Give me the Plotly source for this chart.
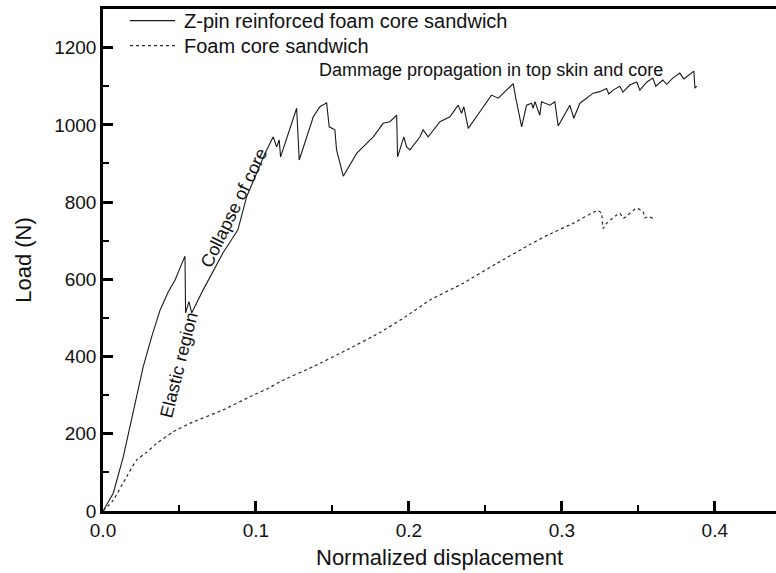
import plotly.graph_objects as go

# Load–displacement response of the two sandwich configurations
disp_zpin = [0.0, 0.0067, 0.0133, 0.0198, 0.0263, 0.0318, 0.0373, 0.0427, 0.0471, 0.0536,
             0.0540, 0.0562, 0.0580, 0.0654, 0.0784, 0.0882, 0.0939, 0.1059, 0.1113, 0.1135,
             0.1152, 0.1161, 0.1190, 0.1266, 0.1283, 0.1331, 0.1375, 0.1418, 0.1462, 0.1479,
             0.1516, 0.1527, 0.1571, 0.1658, 0.1767, 0.1832, 0.1876, 0.1920, 0.1926, 0.1967,
             0.1985, 0.2007, 0.2072, 0.2093, 0.2126, 0.2203, 0.2268, 0.2322, 0.2344, 0.2359,
             0.2388, 0.2464, 0.2540, 0.2584, 0.2682, 0.2699, 0.2737, 0.2769, 0.2802, 0.2812,
             0.2824, 0.2856, 0.2867, 0.2922, 0.2954, 0.2976, 0.3052, 0.3078, 0.3118, 0.3205,
             0.3248, 0.3292, 0.3307, 0.3335, 0.3379, 0.3399, 0.3444, 0.3490, 0.3510, 0.3556,
             0.3595, 0.3614, 0.3660, 0.3686, 0.3725, 0.3771, 0.3797, 0.3837, 0.3863, 0.3870,
             0.3882]
load_zpin = [0, 46, 141, 262, 374, 451, 520, 568, 598, 660,
             513, 542, 513, 572, 668, 728, 814, 926, 969, 943,
             961, 917, 952, 1043, 909, 969, 1021, 1047, 1057, 995,
             987, 935, 867, 926, 969, 1004, 1008, 1025, 917, 969,
             943, 935, 969, 987, 969, 1008, 1021, 1051, 1030, 1047,
             991, 1034, 1077, 1069, 1107, 1069, 995, 1051, 1056, 1043,
             1060, 1025, 1060, 1051, 1060, 997, 1051, 1017, 1056, 1082,
             1086, 1094, 1080, 1090, 1100, 1085, 1103, 1111, 1090, 1111,
             1121, 1100, 1116, 1105, 1121, 1134, 1119, 1131, 1139, 1095,
             1100]

disp_foam = [0.0, 0.0067, 0.0155, 0.0220, 0.0286, 0.0351, 0.0459, 0.0569, 0.0786, 0.0961,
             0.1092, 0.1157, 0.1375, 0.1593, 0.1810, 0.1985, 0.2137, 0.2355, 0.2573, 0.2791,
             0.2910, 0.3074, 0.3237, 0.3259, 0.3270, 0.3292, 0.3379, 0.3401, 0.3488, 0.3531,
             0.3542, 0.3564, 0.3597]
load_foam = [0, 28, 89, 132, 152, 175, 205, 227, 262, 296,
             320, 335, 374, 417, 462, 505, 546, 590, 641, 690,
             715, 745, 778, 771, 732, 745, 771, 758, 784, 775,
             759, 762, 758]

series_names = ["Z-pin reinforced foam core sandwich", "Foam core sandwich"]
series_dash = ["solid", "3px,3px"]
series_color = ["#1a1a1a", "#2a2a2a"]

FONT = "Liberation Sans, Arial, sans-serif"

fig = go.Figure()
fig.add_trace(go.Scatter(
    x=disp_zpin, y=load_zpin, mode="lines", name=series_names[0],
    line=dict(color=series_color[0], width=1.1, dash=series_dash[0]),
))
fig.add_trace(go.Scatter(
    x=disp_foam, y=load_foam, mode="lines", name=series_names[1],
    line=dict(color=series_color[1], width=1.2, dash=series_dash[1],
              shape="spline", smoothing=0.5),
))

axis_common = dict(
    showgrid=False, zeroline=False, showline=True, linecolor="black", linewidth=2.5,
    ticks="inside", ticklen=10, tickwidth=2.5, tickcolor="black",
    tickfont=dict(family=FONT, size=19, color="#111"),
)

fig.update_xaxes(
    **axis_common, range=[0, 0.44], dtick=0.1, tick0=0, tickformat=".1f",
    mirror=True,
    minor=dict(ticks="inside", ticklen=6, tickwidth=2, tickcolor="black", dtick=0.05, showgrid=False),
    title=dict(text="Normalized displacement", font=dict(family=FONT, size=22, color="#111"), standoff=11),
)
fig.update_yaxes(
    **axis_common, range=[0, 1300], dtick=200, tick0=0,
    minor=dict(ticks="inside", ticklen=6, tickwidth=2, tickcolor="black", dtick=100, showgrid=False),
    title=dict(text="Load (N)", font=dict(family=FONT, size=22, color="#111"), standoff=17),
)

# Key in the upper-left corner: line sample plus label for each series
key_rows_y = [0.977, 0.927]
for name, dash, color, ky in zip(series_names, series_dash, series_color, key_rows_y):
    fig.add_shape(type="line", xref="paper", yref="paper",
                  x0=0.040, x1=0.107, y0=ky, y1=ky,
                  line=dict(color=color, width=1.2, dash=dash))
    fig.add_annotation(text=name, xref="paper", yref="paper", x=0.117, y=ky,
                       xanchor="left", yanchor="middle", showarrow=False,
                       font=dict(family=FONT, size=20, color="#111"))

annotations = [
    dict(text="Dammage propagation in top skin and core", x=0.2536, y=1142, textangle=0),
    dict(text="Collapse of core", x=0.0856, y=785, textangle=-64),
    dict(text="Elastic region", x=0.0497, y=378, textangle=-76),
]
for a in annotations:
    fig.add_annotation(
        text=a["text"], x=a["x"], y=a["y"], xref="x", yref="y", showarrow=False,
        textangle=a["textangle"], font=dict(family=FONT, size=18, color="#111"),
        xanchor="center", yanchor="middle",
    )

fig.update_layout(
    width=776, height=573,
    margin=dict(l=103, r=0, t=9, b=62),
    paper_bgcolor="white", plot_bgcolor="white",
    showlegend=False,
)

fig.write_html("out.html")
